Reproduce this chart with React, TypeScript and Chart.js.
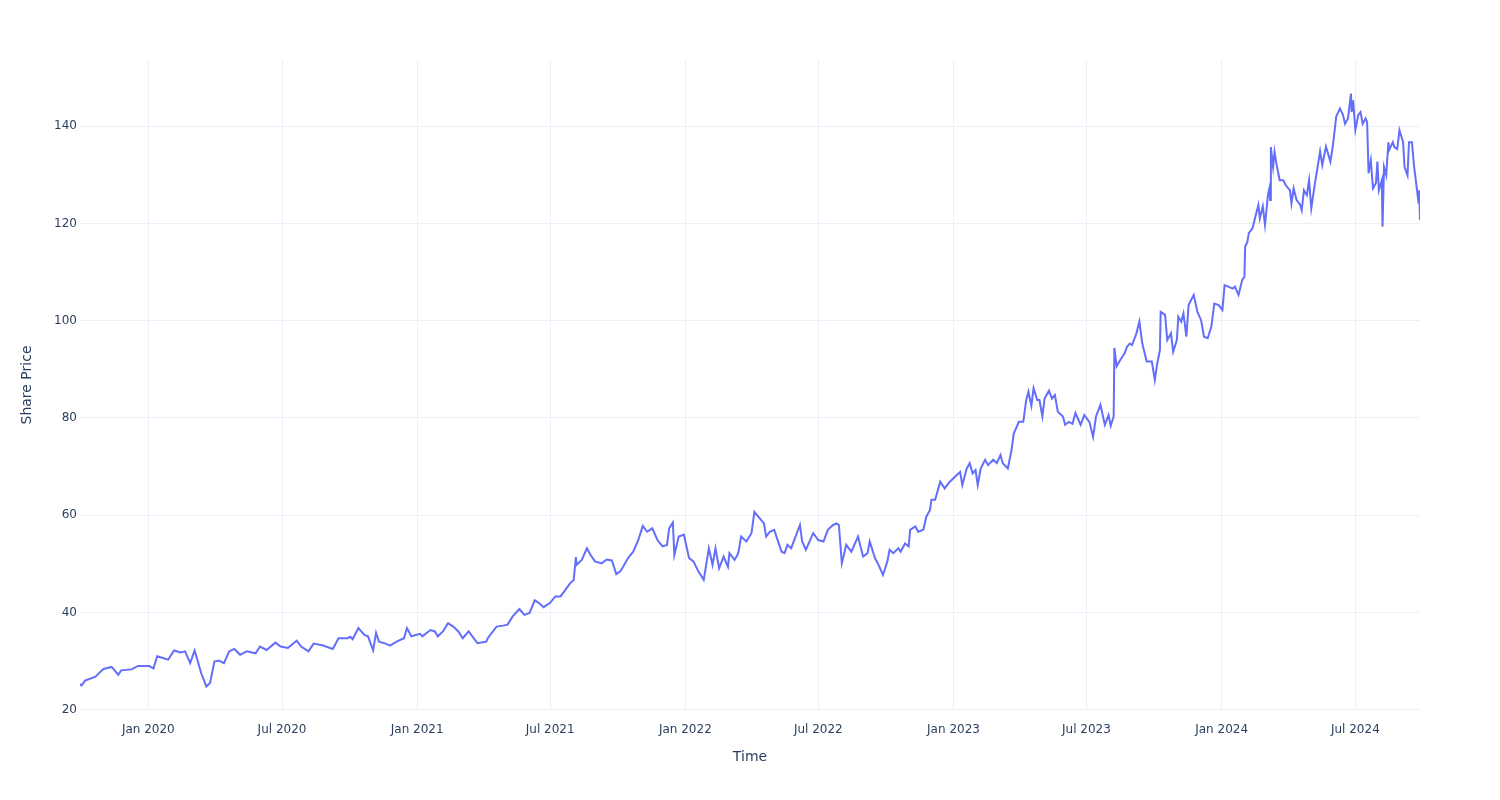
import React, { useEffect, useRef } from "react";
import { Chart, registerables } from "chart.js";

Chart.register(...registerables);

const dates: string[] = [
  "2019-09-30", "2019-10-02", "2019-10-07", "2019-10-21", "2019-11-01", "2019-11-12", "2019-11-15", "2019-11-21", "2019-11-25",
  "2019-12-09", "2019-12-18", "2020-01-02", "2020-01-08", "2020-01-13", "2020-01-22", "2020-01-28", "2020-02-05", "2020-02-14",
  "2020-02-20", "2020-02-27", "2020-03-04", "2020-03-09", "2020-03-13", "2020-03-20", "2020-03-25", "2020-03-31", "2020-04-06",
  "2020-04-13", "2020-04-20", "2020-04-27", "2020-05-05", "2020-05-14", "2020-05-26", "2020-06-01", "2020-06-10", "2020-06-22",
  "2020-06-29", "2020-07-09", "2020-07-21", "2020-07-27", "2020-08-06", "2020-08-13", "2020-08-26", "2020-09-08", "2020-09-16",
  "2020-09-28", "2020-10-02", "2020-10-05", "2020-10-13", "2020-10-21", "2020-10-26", "2020-11-02", "2020-11-06", "2020-11-10",
  "2020-11-19", "2020-11-25", "2020-12-04", "2020-12-14", "2020-12-18", "2020-12-24", "2021-01-05", "2021-01-08", "2021-01-19",
  "2021-01-25", "2021-01-29", "2021-02-05", "2021-02-12", "2021-02-19", "2021-02-26", "2021-03-04", "2021-03-12", "2021-03-17",
  "2021-03-24", "2021-04-05", "2021-04-07", "2021-04-19", "2021-04-28", "2021-05-04", "2021-05-11", "2021-05-20", "2021-05-27",
  "2021-06-03", "2021-06-10", "2021-06-17", "2021-06-22", "2021-07-01", "2021-07-08", "2021-07-15", "2021-07-21", "2021-07-28",
  "2021-08-02", "2021-08-05", "2021-08-06", "2021-08-13", "2021-08-20", "2021-08-25", "2021-08-31", "2021-09-09", "2021-09-16",
  "2021-09-23", "2021-09-29", "2021-10-04", "2021-10-06", "2021-10-15", "2021-10-22", "2021-10-29", "2021-11-04", "2021-11-10",
  "2021-11-17", "2021-11-24", "2021-12-01", "2021-12-07", "2021-12-10", "2021-12-15", "2021-12-17", "2021-12-23", "2021-12-30",
  "2022-01-06", "2022-01-12", "2022-01-19", "2022-01-26", "2022-02-02", "2022-02-07", "2022-02-11", "2022-02-16", "2022-02-22",
  "2022-02-28", "2022-03-02", "2022-03-09", "2022-03-14", "2022-03-18", "2022-03-25", "2022-04-01", "2022-04-05", "2022-04-12",
  "2022-04-18", "2022-04-21", "2022-04-26", "2022-05-02", "2022-05-05", "2022-05-12", "2022-05-16", "2022-05-20", "2022-05-25",
  "2022-06-01", "2022-06-06", "2022-06-09", "2022-06-14", "2022-06-17", "2022-06-24", "2022-07-01", "2022-07-08", "2022-07-14",
  "2022-07-21", "2022-07-26", "2022-07-29", "2022-08-02", "2022-08-08", "2022-08-15", "2022-08-24", "2022-08-31", "2022-09-06",
  "2022-09-09", "2022-09-16", "2022-09-21", "2022-09-27", "2022-10-03", "2022-10-06", "2022-10-11", "2022-10-18", "2022-10-21",
  "2022-10-27", "2022-11-01", "2022-11-03", "2022-11-10", "2022-11-14", "2022-11-21", "2022-11-25", "2022-11-30", "2022-12-02",
  "2022-12-07", "2022-12-14", "2022-12-20", "2022-12-27", "2023-01-03", "2023-01-10", "2023-01-13", "2023-01-19", "2023-01-23",
  "2023-01-27", "2023-01-31", "2023-02-03", "2023-02-07", "2023-02-13", "2023-02-17", "2023-02-24", "2023-03-01", "2023-03-06",
  "2023-03-09", "2023-03-16", "2023-03-21", "2023-03-24", "2023-03-31", "2023-04-06", "2023-04-10", "2023-04-13", "2023-04-17",
  "2023-04-20", "2023-04-25", "2023-04-28", "2023-05-02", "2023-05-05", "2023-05-11", "2023-05-15", "2023-05-19", "2023-05-23",
  "2023-05-30", "2023-06-02", "2023-06-07", "2023-06-12", "2023-06-16", "2023-06-23", "2023-06-28", "2023-07-05", "2023-07-10",
  "2023-07-14", "2023-07-20", "2023-07-26", "2023-07-31", "2023-08-03", "2023-08-07", "2023-08-08", "2023-08-11", "2023-08-16",
  "2023-08-22", "2023-08-25", "2023-08-29", "2023-09-01", "2023-09-07", "2023-09-11", "2023-09-15", "2023-09-21", "2023-09-28",
  "2023-10-02", "2023-10-05", "2023-10-09", "2023-10-10", "2023-10-16", "2023-10-19", "2023-10-24", "2023-10-27", "2023-11-01",
  "2023-11-03", "2023-11-07", "2023-11-10", "2023-11-14", "2023-11-17", "2023-11-24", "2023-11-29", "2023-12-04", "2023-12-08",
  "2023-12-13", "2023-12-18", "2023-12-22", "2023-12-28", "2024-01-02", "2024-01-05", "2024-01-10", "2024-01-16", "2024-01-19",
  "2024-01-24", "2024-01-29", "2024-02-01", "2024-02-02", "2024-02-05", "2024-02-07", "2024-02-12", "2024-02-16", "2024-02-20",
  "2024-02-22", "2024-02-26", "2024-02-29", "2024-03-04", "2024-03-06", "2024-03-07", "2024-03-08", "2024-03-11", "2024-03-13",
  "2024-03-15", "2024-03-20", "2024-03-25", "2024-03-28", "2024-04-03", "2024-04-05", "2024-04-08", "2024-04-12", "2024-04-17",
  "2024-04-19", "2024-04-22", "2024-04-26", "2024-04-29", "2024-05-02", "2024-05-07", "2024-05-10", "2024-05-14", "2024-05-17",
  "2024-05-22", "2024-05-24", "2024-05-28", "2024-05-31", "2024-06-05", "2024-06-10", "2024-06-14", "2024-06-17", "2024-06-21",
  "2024-06-25", "2024-06-26", "2024-06-28", "2024-07-01", "2024-07-05", "2024-07-08", "2024-07-11", "2024-07-15", "2024-07-17",
  "2024-07-19", "2024-07-22", "2024-07-25", "2024-07-29", "2024-07-31", "2024-08-02", "2024-08-06", "2024-08-07", "2024-08-09",
  "2024-08-12", "2024-08-15", "2024-08-16", "2024-08-21", "2024-08-23", "2024-08-27", "2024-08-30", "2024-09-04", "2024-09-06",
  "2024-09-10", "2024-09-12", "2024-09-16", "2024-09-19", "2024-09-23", "2024-09-25", "2024-09-26", "2024-09-27",
];

const prices: number[] = [
  25.3, 25.0, 26.0, 26.8, 28.4, 28.8, 28.3, 27.2, 28.1,
  28.3, 29.0, 29.0, 28.5, 31.0, 30.6, 30.3, 32.2, 31.8,
  32.0, 29.6, 32.2, 29.6, 27.5, 24.8, 25.5, 29.9, 30.1,
  29.6, 32.0, 32.5, 31.3, 32.0, 31.6, 33.0, 32.3, 33.8,
  33.0, 32.7, 34.2, 33.0, 32.0, 33.6, 33.2, 32.5, 34.7,
  34.7, 35.0, 34.5, 36.8, 35.4, 35.1, 32.2, 35.8, 34.0,
  33.6, 33.2, 34.0, 34.7, 36.8, 35.1, 35.6, 35.1, 36.4,
  36.1, 35.1, 36.1, 37.8, 37.1, 36.1, 34.7, 36.1, 35.1,
  33.7, 34.0, 34.7, 37.1, 37.3, 37.5, 39.2, 40.7, 39.5,
  39.9, 42.5, 41.8, 41.1, 42.0, 43.3, 43.3, 44.5, 46.0,
  46.7, 51.4, 49.8, 50.8, 53.2, 51.8, 50.5, 50.1, 50.9,
  50.7, 47.9, 48.4, 48.8, 51.2, 52.5, 54.9, 57.8, 56.6,
  57.3, 54.9, 53.6, 53.9, 57.3, 58.5, 51.8, 55.6, 56.0,
  51.2, 50.5, 48.4, 46.7, 53.2, 49.8, 53.2, 49.1, 51.5,
  49.4, 52.2, 50.8, 52.2, 55.6, 54.6, 56.3, 60.7, 59.4,
  58.3, 55.6, 56.6, 57.0, 55.6, 52.5, 52.2, 53.9, 53.2,
  56.0, 58.0, 54.6, 52.9, 53.9, 56.3, 54.9, 54.6, 57.0,
  58.0, 58.3, 58.0, 50.1, 53.9, 52.5, 55.6, 51.5, 52.2,
  54.6, 51.2, 49.8, 47.7, 50.5, 52.9, 52.2, 53.2, 52.5,
  54.2, 53.6, 57.0, 57.7, 56.6, 57.0, 59.7, 61.1, 63.2,
  63.2, 66.9, 65.5, 66.9, 67.9, 68.9, 66.2, 69.6, 70.7,
  68.6, 69.3, 66.2, 69.6, 71.4, 70.3, 71.4, 70.7, 72.4,
  70.7, 69.6, 73.4, 76.8, 79.2, 79.2, 83.7, 85.4, 82.5,
  86.1, 83.7, 83.7, 80.3, 84.0, 85.6, 84.0, 84.7, 81.3,
  80.3, 78.6, 79.2, 78.8, 81.0, 78.6, 80.6, 79.2, 76.1,
  80.3, 82.7, 78.6, 80.6, 78.4, 80.3, 94.4, 90.6, 91.9,
  93.3, 94.6, 95.3, 95.0, 97.4, 99.8, 95.3, 91.6, 91.6,
  87.8, 90.9, 94.0, 101.8, 101.2, 96.0, 97.4, 93.6, 96.0,
  100.8, 99.8, 101.5, 96.7, 103.2, 105.3, 101.8, 100.1, 96.7,
  96.4, 98.8, 103.5, 103.2, 102.2, 107.3, 107.0, 106.6, 107.0,
  105.3, 108.4, 109.0, 115.2, 116.2, 118.0, 119.0, 121.4, 123.8,
  121.0, 123.5, 119.7, 125.8, 127.2, 124.8, 135.7, 131.6, 134.7,
  132.7, 128.9, 128.9, 127.9, 126.8, 124.1, 127.2, 124.8, 123.8,
  122.7, 126.8, 125.8, 128.9, 123.1, 128.3, 131.0, 134.8, 132.0,
  135.8, 134.8, 132.7, 135.5, 142.0, 143.6, 142.4, 140.5, 141.6,
  146.7, 142.9, 145.3, 139.2, 142.3, 142.9, 140.5, 141.6, 140.8,
  130.3, 133.0, 127.2, 128.3, 132.7, 126.8, 128.9, 119.3, 131.6,
  129.9, 136.7, 135.1, 136.7, 135.7, 135.3, 139.2, 136.7, 131.6,
  129.9, 136.7, 136.7, 131.6, 126.8, 124.1, 126.8, 120.7,
];

const xTickDates: string[] = [
  "2020-01-01", "2020-07-01", "2021-01-01", "2021-07-01", "2022-01-01",
  "2022-07-01", "2023-01-01", "2023-07-01", "2024-01-01", "2024-07-01",
];
const yTickValues: number[] = [20, 40, 60, 80, 100, 120, 140];
const monthNames: string[] = ["Jan", "Feb", "Mar", "Apr", "May", "Jun", "Jul", "Aug", "Sep", "Oct", "Nov", "Dec"];
const xTitle = "Time";
const yTitle = "Share Price";
const yMin = 19.95;
const yMax = 153.6;

const ts = (s: string) => Date.parse(s + "T00:00:00Z");
const FONT = "'DejaVu Sans', Verdana, sans-serif";
const TEXT = "#2a3f5f";
const GRID = "#ebf0f8";

export default function App() {
  const ref = useRef<HTMLCanvasElement>(null);

  useEffect(() => {
    if (!ref.current) return;
    const chart = new Chart(ref.current, {
      type: "line",
      data: {
        datasets: [
          {
            data: dates.map((d, i) => ({ x: ts(d), y: prices[i] })),
            borderColor: "#636efa",
            borderWidth: 2,
            pointRadius: 0,
            tension: 0,
            fill: false,
          },
        ],
      },
      options: {
        animation: false,
        responsive: false,
        maintainAspectRatio: false,
        layout: { padding: { left: 0, right: 80, top: 60, bottom: 0 } },
        plugins: { legend: { display: false }, tooltip: { enabled: false } },
        scales: {
          x: {
            type: "linear",
            min: ts(dates[0]),
            max: ts(dates[dates.length - 1]),
            afterBuildTicks: (s: any) => {
              s.ticks = xTickDates.map((d) => ({ value: ts(d) }));
            },
            afterFit: (s: any) => {
              s.height = 90;
            },
            ticks: {
              callback: (v: any) => {
                const d = new Date(Number(v));
                return monthNames[d.getUTCMonth()] + " " + d.getUTCFullYear();
              },
              font: { family: FONT, size: 12 },
              color: TEXT,
              padding: 13,
              maxRotation: 0,
              autoSkip: false,
            },
            grid: { color: GRID, lineWidth: 1, drawTicks: false },
            border: { display: false },
            title: {
              display: true,
              text: xTitle,
              font: { family: FONT, size: 14 },
              color: TEXT,
              padding: { top: 0, bottom: 34 },
            },
          },
          y: {
            type: "linear",
            min: yMin,
            max: yMax,
            afterBuildTicks: (s: any) => {
              s.ticks = yTickValues.map((v) => ({ value: v }));
            },
            afterFit: (s: any) => {
              s.width = 80;
            },
            ticks: {
              font: { family: FONT, size: 12 },
              color: TEXT,
              padding: 3,
            },
            grid: { color: GRID, lineWidth: 1, drawTicks: false },
            border: { display: false },
            title: {
              display: true,
              text: yTitle,
              font: { family: FONT, size: 14 },
              color: TEXT,
              padding: { top: 19, bottom: 0 },
            },
          },
        },
      } as any,
    });
    return () => chart.destroy();
  }, []);

  return (
    <div style={{ position: "fixed", left: 0, top: 0, width: 1500, height: 800, background: "#fff" }}>
      <canvas ref={ref} width={1500} height={800} style={{ display: "block", width: 1500, height: 800 }} />
    </div>
  );
}
